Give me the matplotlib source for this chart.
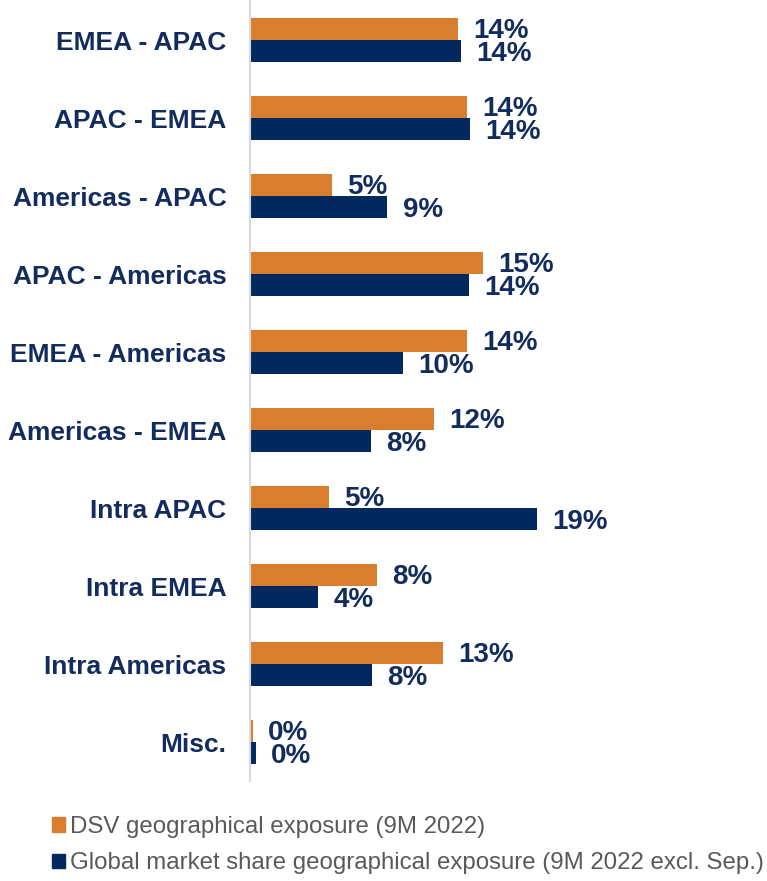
import numpy as np
import matplotlib
matplotlib.use("Agg")
import matplotlib.pyplot as plt
from matplotlib.patches import Patch

routes = ["EMEA - APAC", "APAC - EMEA", "Americas - APAC", "APAC - Americas",
          "EMEA - Americas", "Americas - EMEA", "Intra APAC", "Intra EMEA",
          "Intra Americas", "Misc."]
# bar lengths (%), and the rounded labels shown
dsv = [13.8, 14.4, 5.4, 15.4, 14.4, 12.2, 5.2, 8.4, 12.8, 0.2]
market = [14.0, 14.6, 9.1, 14.5, 10.1, 8.0, 19.0, 4.5, 8.1, 0.4]
dsv_labels = [14, 14, 5, 15, 14, 12, 5, 8, 13, 0]
market_labels = [14, 14, 9, 14, 10, 8, 19, 4, 8, 0]
series_names = ["DSV geographical exposure (9M 2022)",
                "Global market share geographical exposure (9M 2022 excl. Sep.)"]

ORANGE = "#D97E2F"
NAVY = "#03285F"
TEXT = "#132C5E"
GREY = "#595959"

plt.rcParams['font.family'] = ['Liberation Sans', 'DejaVu Sans']

fig = plt.figure(figsize=(7.67, 8.81), dpi=100)
ax = fig.add_axes([250 / 767, 1 - 781 / 881, 517 / 767, 780 / 881])

y = np.arange(len(routes))
h = 0.282
ax.barh(y - h / 2, dsv, height=h, color=ORANGE)
ax.barh(y + h / 2, market, height=h, color=NAVY)

for i in range(len(routes)):
    ax.annotate(f"{dsv_labels[i]}%", (dsv[i], y[i] - h / 2 + 0.02), xytext=(11, 0),
                textcoords="offset points", va="center", ha="left",
                fontsize=20, fontweight="bold", color=TEXT)
    ax.annotate(f"{market_labels[i]}%", (market[i], y[i] + h / 2 + 0.04), xytext=(11, 0),
                textcoords="offset points", va="center", ha="left",
                fontsize=20, fontweight="bold", color=TEXT)

ax.set_ylim(len(routes) - 0.5, -0.5)
ax.set_xlim(0, 517 / 15.1)
ax.set_yticks(y)
ax.set_yticklabels(routes, fontsize=19, fontweight="bold", color=TEXT)
ax.tick_params(axis="y", length=0, pad=17)
ax.set_xticks([])
for s in ["top", "right", "bottom"]:
    ax.spines[s].set_visible(False)
ax.spines["left"].set_color("#D9D9D9")
ax.spines["left"].set_linewidth(1.5)

handles = [Patch(color=ORANGE), Patch(color=NAVY)]
fig.legend(handles, series_names, loc="upper left",
           bbox_to_anchor=(52 / 767, 1 - 816 / 881), frameon=False,
           handlelength=0.55, handleheight=0.55, handletextpad=0.2,
           labelspacing=0.6, borderaxespad=0, borderpad=0,
           prop={"family": "Liberation Sans", "size": 17.3},
           labelcolor=GREY)

fig.savefig("out.png", dpi=100)
